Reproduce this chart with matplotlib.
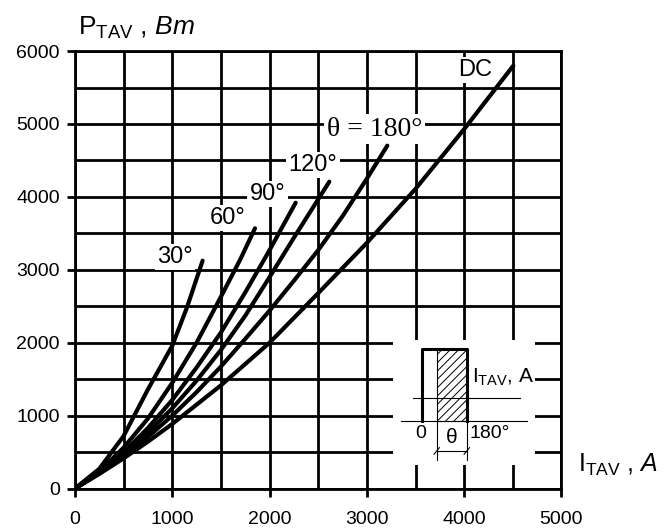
import matplotlib
matplotlib.use('Agg')
import matplotlib.pyplot as plt
from matplotlib.patches import Rectangle

plt.rcParams['font.family'] = ['Liberation Sans', 'DejaVu Sans']
plt.rcParams['mathtext.fontset'] = 'custom'
plt.rcParams['mathtext.rm'] = 'Liberation Sans'
plt.rcParams['mathtext.it'] = 'Liberation Sans:italic'
plt.rcParams['hatch.linewidth'] = 0.7

# average on-state current I_TAV (A) vs average power loss P_TAV (W), per conduction angle
cur_30 = [0, 250, 500, 750, 1000, 1150, 1312]
pwr_30 = [0, 270, 720, 1360, 1960, 2480, 3125]
cur_60 = [0, 250, 500, 750, 1000, 1250, 1500, 1700, 1850]
pwr_60 = [0, 235, 560, 960, 1450, 2000, 2630, 3145, 3569]
cur_90 = [0, 250, 500, 750, 1000, 1250, 1500, 1750, 2000, 2268]
pwr_90 = [0, 220, 495, 830, 1215, 1660, 2140, 2690, 3270, 3920]
cur_120 = [0, 250, 500, 750, 1000, 1250, 1500, 1750, 2000, 2250, 2614]
pwr_120 = [0, 215, 465, 765, 1100, 1480, 1900, 2370, 2900, 3440, 4209]
cur_180 = [0, 250, 500, 750, 1000, 1250, 1500, 1750, 2000, 2250, 2500, 2750, 3000, 3210]
pwr_180 = [0, 207, 443, 707, 1000, 1322, 1673, 2052, 2440, 2850, 3270, 3735, 4250, 4703]
cur_dc = [0, 250, 500, 750, 1000, 1500, 2000, 2500, 3000, 3500, 4000, 4505]
pwr_dc = [0, 200, 414, 643, 886, 1415, 2000, 2680, 3370, 4110, 4930, 5800]

curve_labels = ['30°', '60°', '90°', '120°', 'θ = 180°', 'DC']
label_fonts = ['Liberation Sans'] * 4 + ['Liberation Serif', 'Liberation Sans']
label_sizes = [17, 17, 17, 17, 20, 17]
label_pos = [(1028, 3176), (1572, 3711), (1978, 4040), (2446, 4438), (3078, 4931), (4111, 5741)]

x_ticks = [0, 1000, 2000, 3000, 4000, 5000]
y_ticks = [0, 1000, 2000, 3000, 4000, 5000, 6000]

fig = plt.figure(figsize=(6.67, 5.30), dpi=100)
ax = fig.add_axes([0.1124, 0.0783, 0.7294, 0.8253])

ax.set_xlim(0, 5000)
ax.set_ylim(0, 6000)
ax.set_xticks(x_ticks)
ax.set_yticks(y_ticks)
ax.set_xticks(range(0, 5001, 500), minor=True)
ax.set_yticks(range(0, 6001, 500), minor=True)
ax.tick_params(which='major', length=6, width=2.0, direction='out', labelsize=14)
ax.tick_params(which='minor', length=0)
ax.tick_params(axis='x', pad=10)
ax.tick_params(axis='y', pad=5)
ax.set_axisbelow(True)
ax.grid(True, which='both', color='black', linewidth=2.0)
for sp in ax.spines.values():
    sp.set_linewidth(2.0)

series = [(cur_30, pwr_30), (cur_60, pwr_60), (cur_90, pwr_90),
          (cur_120, pwr_120), (cur_180, pwr_180), (cur_dc, pwr_dc)]
for xs, ys in series:
    ax.plot(xs, ys, color='black', linewidth=3.0, solid_capstyle='round', zorder=4)

for i, txt in enumerate(curve_labels):
    ax.text(label_pos[i][0], label_pos[i][1], txt, ha='center', va='center',
            fontsize=label_sizes[i], family=label_fonts[i], zorder=3,
            bbox=dict(boxstyle='square,pad=0.1', fc='white', ec='none'))

# inset with current waveform
ax.add_patch(Rectangle((3268, 323), 1460, 1714, fc='white', ec='none', zorder=1))
ax.plot([3563, 3563, 4026, 4026], [926, 1909, 1909, 926], color='black', lw=2.2, zorder=3)
ax.add_patch(Rectangle((3717, 926), 309, 983, fill=False, hatch='////', ec='black', lw=0.8, zorder=3))
ax.plot([3350, 4642], [926, 926], color='black', lw=0.8, zorder=3)
ax.plot([3470, 4573], [1246, 1246], color='black', lw=0.8, zorder=3)
ax.plot([3717, 3717], [926, 391], color='black', lw=0.8, zorder=3)
ax.plot([4026, 4026], [926, 391], color='black', lw=0.8, zorder=3)
ax.plot([3717, 4026], [515, 515], color='black', lw=0.8, zorder=3)
ax.plot([3690, 3745], [470, 560], color='black', lw=0.8, zorder=3)
ax.plot([3999, 4054], [470, 560], color='black', lw=0.8, zorder=3)
ax.text(3551, 748, '0', ha='center', va='center', fontsize=14, zorder=3)
ax.text(3870, 700, 'θ', ha='center', va='center', fontsize=15, zorder=3)
ax.text(4055, 761, '180°', ha='left', va='center', fontsize=14, zorder=3)
ax.text(4085, 1447, r'I$_{\rm TAV}$, A', ha='left', va='baseline', fontsize=15, zorder=3)

fig.text(0.117, 0.934, r'P$_{\rm TAV}$ , $\it{Bm}$', fontsize=19, va='baseline')
fig.text(0.866, 0.109, r'I$_{\rm TAV}$ , $\it{A}$', fontsize=18, va='baseline')

fig.savefig('out.png', dpi=100)
